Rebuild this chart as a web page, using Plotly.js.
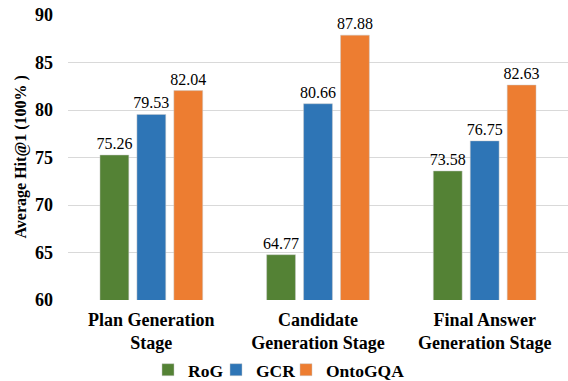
<!DOCTYPE html>
<html><head><meta charset="utf-8">
<script src="https://cdn.plot.ly/plotly-3.0.1.min.js"></script>
<style>html,body{margin:0;padding:0;background:#fff}#chart{width:568px;height:381px}</style>
</head><body><div id="chart"></div>
<script>
const categories = ["Plan Generation<br>Stage", "Candidate<br>Generation Stage", "Final Answer<br>Generation Stage"];
const seriesNames = ["RoG", "GCR", "OntoGQA"];
const rog = [75.26, 64.77, 73.58];
const gcr = [79.53, 80.66, 76.75];
const ontogqa = [82.04, 87.88, 82.63];
const yTicks = [60, 65, 70, 75, 80, 85, 90];
const colors = ["#548235", "#2E75B6", "#ED7D31"];

const font = "Liberation Serif, Times New Roman, serif";
const values = [rog, gcr, ontogqa];
const legendIds = ["legend", "legend2", "legend3"];
const traces = values.map((v, i) => ({
  type: "bar",
  name: seriesNames[i],
  legend: legendIds[i],
  x: categories,
  y: v,
  marker: {color: colors[i], line: {color: "rgba(200,200,200,0.8)", width: 0.6}},
  text: v.map(n => n.toFixed(2)),
  textposition: "outside",
  constraintext: "none",
  cliponaxis: false,
  textfont: {family: font, size: 16, color: "#000"}
}));

const legendX = [0.16, 0.296, 0.436];
function legendCfg(x) {
  return {
    orientation: "h", x: x, xanchor: "left", y: -0.245, yanchor: "middle",
    bgcolor: "rgba(0,0,0,0)",
    font: {family: font, size: 17.5, color: "#000", weight: "bold"},
    itemwidth: 30
  };
}

const layout = {
  width: 568, height: 381,
  margin: {l: 68, r: 0, t: 15, b: 81, autoexpand: false},
  paper_bgcolor: "#fff", plot_bgcolor: "#fff",
  barmode: "group",
  bargap: 0.335,
  bargroupgap: 0.22,
  font: {family: font, color: "#000"},
  xaxis: {
    tickfont: {family: font, size: 18, color: "#000", weight: "bold"},
    showline: false, ticks: "", showgrid: false,
    ticklabelstandoff: 7
  },
  yaxis: {
    range: [60, 90],
    tickvals: yTicks,
    ticktext: yTicks.map(String),
    tickfont: {family: font, size: 18, color: "#000", weight: "bold"},
    gridcolor: "#d9d9d9", gridwidth: 1,
    zeroline: false, showline: false,
    ticklabelstandoff: 14
  },
  annotations: [{
    text: "Average Hit@1 (100% )", xref: "paper", yref: "paper",
    x: -0.096, y: 0.5, xanchor: "center", yanchor: "middle", textangle: -90,
    showarrow: false, font: {family: font, size: 16, color: "#000", weight: "bold"}
  }],
  showlegend: true,
  legend: legendCfg(legendX[0]),
  legend2: legendCfg(legendX[1]),
  legend3: legendCfg(legendX[2])
};
Plotly.newPlot("chart", traces, layout, {displayModeBar: false, staticPlot: true});
</script></body></html>
